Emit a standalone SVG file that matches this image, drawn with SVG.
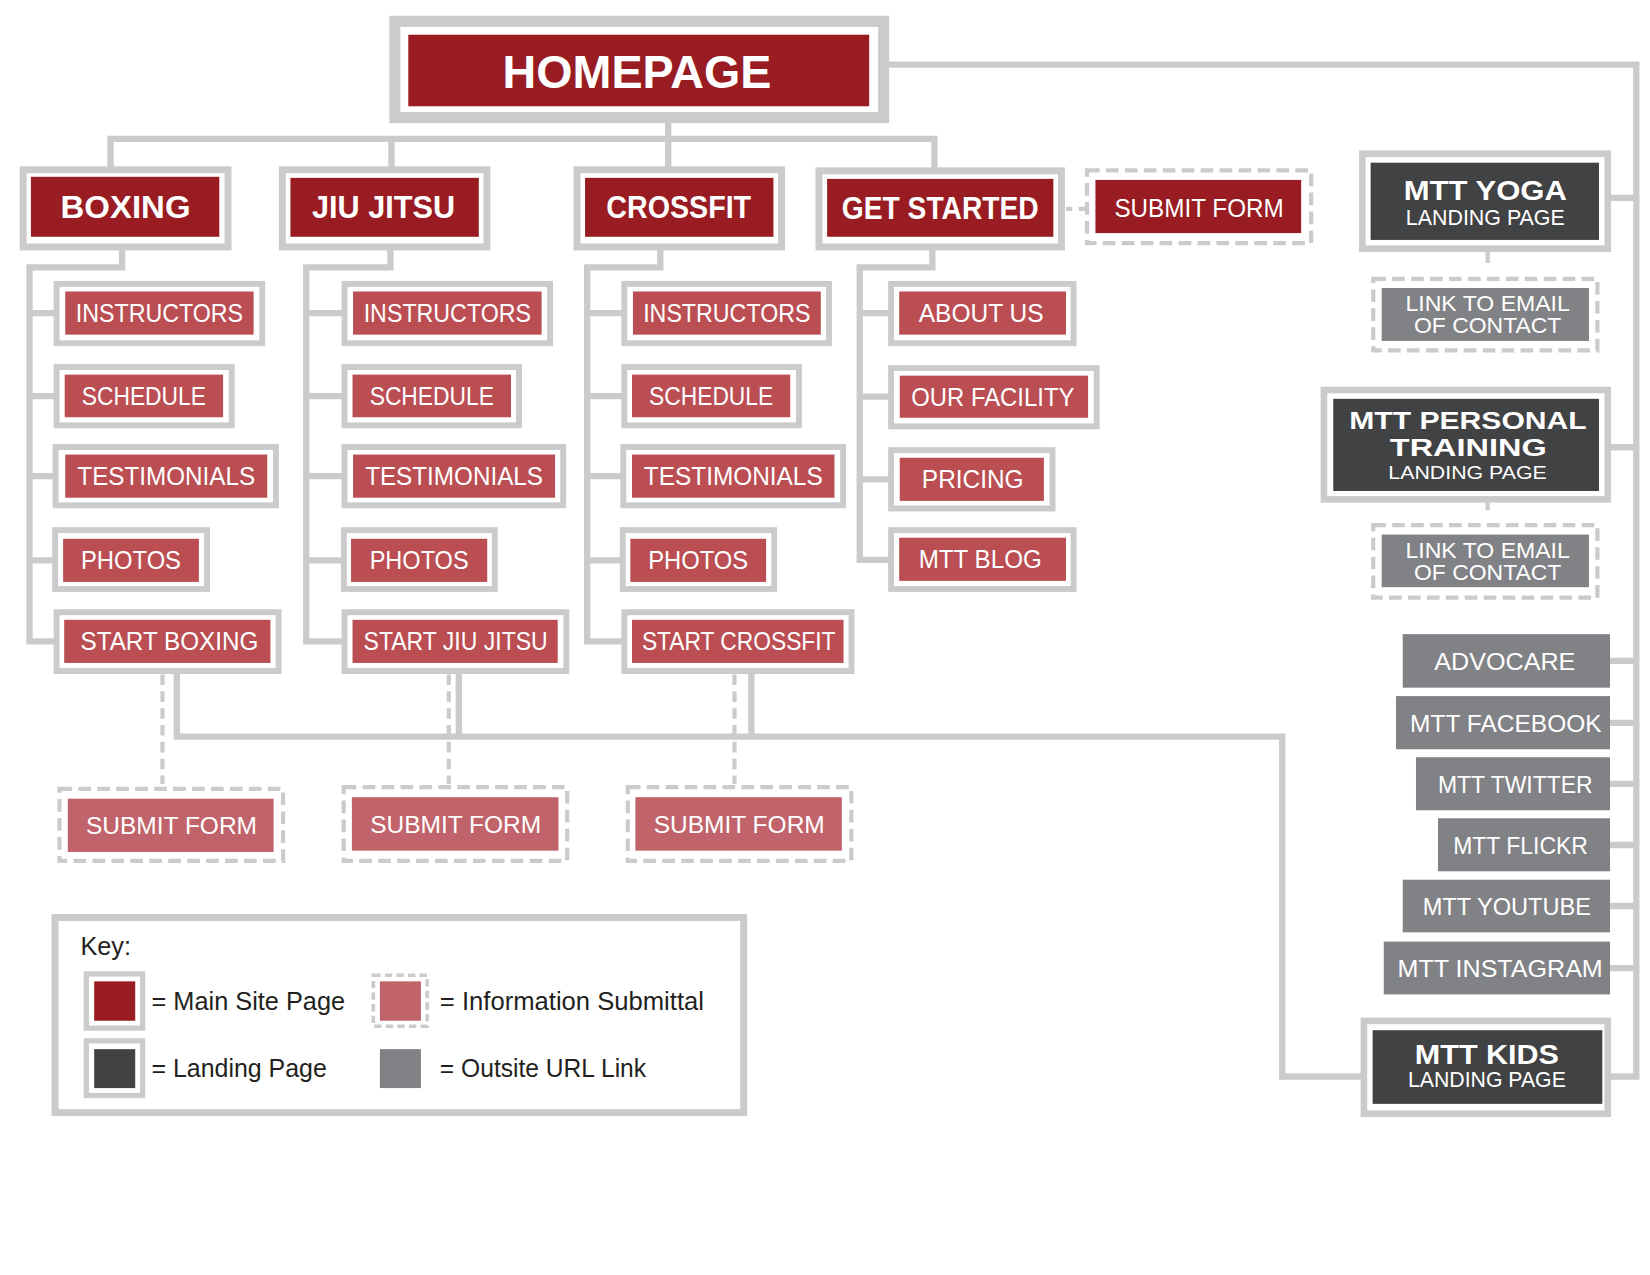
<svg xmlns="http://www.w3.org/2000/svg" width="1650" height="1275" viewBox="0 0 1650 1275">
<style>
.fr{fill:#fff;stroke:#cbcbcc}
.ln{fill:none;stroke:#cbcbcc;stroke-width:6}
.dl{fill:none;stroke:#cbcbcc;stroke-width:4;stroke-dasharray:10 6}
.ds{fill:#fff;stroke:#cbcbcc;stroke-width:4;stroke-dasharray:12 6}
.main{fill:#981c21}
.sub{fill:#bb4e53}
.info{fill:#c1636a}
.land{fill:#414244}
.out{fill:#808285}
.t{font-family:"Liberation Sans",Arial,sans-serif;fill:#fff;text-anchor:middle}
.b{font-weight:700}
.s24{font-size:24px}
.k{font-family:"Liberation Sans",Arial,sans-serif;fill:#231f20;font-size:24px}
</style>
<rect width="1650" height="1275" fill="#fff"/>
<g transform="scale(1.0523)">
<g id="connectors">
<path class="ln" d="M105,160 V132 H888 V162 M372,132 V160 M635,112 V160"/>
<path class="ln" d="M840,61.5 H1555 V1023 H1525 M1525,188 H1555 M1525,425 H1555 M1525,628 H1555 M1525,687 H1555 M1525,745 H1555 M1525,803 H1555 M1525,861 H1555 M1525,920 H1555"/>
<path class="ln" d="M116,235 V254 H28 V609.5 H55 M28,297.5 H55 M28,376.5 H55 M28,452.5 H55 M28,532.5 H55"/>
<path class="ln" d="M371,235 V254 H291 V609.5 H330 M291,297.5 H330 M291,376.5 H330 M291,452.5 H330 M291,532.5 H330"/>
<path class="ln" d="M627.5,235 V254 H558 V609.5 H595 M558,297.5 H595 M558,376.5 H595 M558,452.5 H595 M558,532.5 H595"/>
<path class="ln" d="M886,235 V254 H817 V532 H850 M817,297.5 H850 M817,377 H850 M817,455.5 H850"/>
<path class="ln" d="M168,637 V700 H1218.5 V1023 H1298 M436,637 V700 M714,637 V700"/>
<path class="dl" d="M154.4,641 V745 M426.5,641 V745 M698,641 V745"/>
<path class="dl" style="stroke-dasharray:6 6" d="M1013,198.5 H1031"/>
<path class="ln" style="stroke-width:4" d="M1413.7,238 V250 M1413.7,476 V485"/>
</g>

<g id="n-homepage">
<rect class="fr" x="375.25" y="20.25" width="464.5" height="91.5" stroke-width="10.5"/>
<rect class="main" x="388" y="33" width="438" height="68"/>
<text class="t b" x="605.3" y="84" font-size="44" textLength="255.5" lengthAdjust="spacingAndGlyphs">HOMEPAGE</text>
</g>

<g id="n-boxing">
<rect class="fr" x="22" y="161.3" width="194.7" height="73.4" stroke-width="6.6"/>
<rect class="main" x="29.4" y="168" width="179" height="57"/>
<text class="t b" x="119.3" y="207" font-size="30" textLength="123.5" lengthAdjust="spacingAndGlyphs">BOXING</text>
</g>
<g id="n-jiujitsu">
<rect class="fr" x="268.3" y="161.3" width="194.4" height="73.4" stroke-width="6.6"/>
<rect class="main" x="276" y="169" width="179" height="56"/>
<text class="t b" x="364.5" y="207" font-size="30" textLength="136" lengthAdjust="spacingAndGlyphs">JIU JITSU</text>
</g>
<g id="n-crossfit">
<rect class="fr" x="548.3" y="161.3" width="194.4" height="73.4" stroke-width="6.6"/>
<rect class="main" x="556" y="169" width="179" height="56"/>
<text class="t b" x="645" y="207" font-size="30" textLength="137.6" lengthAdjust="spacingAndGlyphs">CROSSFIT</text>
</g>
<g id="n-getstarted">
<rect class="fr" x="778.3" y="162.3" width="230.4" height="72.4" stroke-width="6.6"/>
<rect class="main" x="786" y="170" width="215" height="55"/>
<text class="t b" x="893.5" y="208" font-size="30" textLength="187" lengthAdjust="spacingAndGlyphs">GET STARTED</text>
</g>
<g id="n-gs-submit">
<rect class="ds" x="1033" y="162" width="213" height="69"/>
<rect class="main" x="1041" y="171" width="195.5" height="50.5"/>
<text class="t s24" x="1139.5" y="206" textLength="161" lengthAdjust="spacingAndGlyphs">SUBMIT FORM</text>
</g>

<!-- Boxing children -->
<g id="n-box-instructors">
<rect class="fr" x="53.8" y="269.8" width="195.4" height="56.4" stroke-width="5.6"/>
<rect class="sub" x="62" y="277" width="179" height="41"/>
<text class="t s24" x="151.5" y="306" textLength="159" lengthAdjust="spacingAndGlyphs">INSTRUCTORS</text>
</g>
<g id="n-box-schedule">
<rect class="fr" x="53.8" y="348.8" width="166.4" height="55.4" stroke-width="5.6"/>
<rect class="sub" x="61.5" y="356" width="150.5" height="40.5"/>
<text class="t s24" x="136.7" y="385" textLength="118" lengthAdjust="spacingAndGlyphs">SCHEDULE</text>
</g>
<g id="n-box-testimonials">
<rect class="fr" x="52.8" y="424.8" width="209.4" height="55.4" stroke-width="5.6"/>
<rect class="sub" x="62" y="432" width="192" height="41"/>
<text class="t s24" x="158" y="461" textLength="169" lengthAdjust="spacingAndGlyphs">TESTIMONIALS</text>
</g>
<g id="n-box-photos">
<rect class="fr" x="52.4" y="503.8" width="144.3" height="55.9" stroke-width="5.6"/>
<rect class="sub" x="60" y="512" width="129" height="41"/>
<text class="t s24" x="124.5" y="541" textLength="95" lengthAdjust="spacingAndGlyphs">PHOTOS</text>
</g>
<g id="n-box-start">
<rect class="fr" x="53.8" y="581.8" width="210.9" height="55.9" stroke-width="5.6"/>
<rect class="sub" x="61" y="589" width="196" height="41"/>
<text class="t s24" x="161" y="618" textLength="169" lengthAdjust="spacingAndGlyphs">START BOXING</text>
</g>

<!-- Jiu Jitsu children -->
<g id="n-jj-instructors">
<rect class="fr" x="327.4" y="269.8" width="195.3" height="56.4" stroke-width="5.6"/>
<rect class="sub" x="335.5" y="277" width="179.2" height="41"/>
<text class="t s24" x="425.1" y="306" textLength="159" lengthAdjust="spacingAndGlyphs">INSTRUCTORS</text>
</g>
<g id="n-jj-schedule">
<rect class="fr" x="327.4" y="348.8" width="165.8" height="55.4" stroke-width="5.6"/>
<rect class="sub" x="335" y="356" width="150.6" height="40.5"/>
<text class="t s24" x="410.3" y="385" textLength="118" lengthAdjust="spacingAndGlyphs">SCHEDULE</text>
</g>
<g id="n-jj-testimonials">
<rect class="fr" x="327.4" y="424.8" width="207.8" height="55.4" stroke-width="5.6"/>
<rect class="sub" x="335.5" y="432" width="192" height="41"/>
<text class="t s24" x="431.5" y="461" textLength="169" lengthAdjust="spacingAndGlyphs">TESTIMONIALS</text>
</g>
<g id="n-jj-photos">
<rect class="fr" x="326.8" y="503.8" width="143.4" height="55.9" stroke-width="5.6"/>
<rect class="sub" x="333.6" y="512" width="129.4" height="41"/>
<text class="t s24" x="398.3" y="541" textLength="94" lengthAdjust="spacingAndGlyphs">PHOTOS</text>
</g>
<g id="n-jj-start">
<rect class="fr" x="327.4" y="581.8" width="210.8" height="55.9" stroke-width="5.6"/>
<rect class="sub" x="335" y="589" width="195" height="41"/>
<text class="t s24" x="433" y="618" textLength="175" lengthAdjust="spacingAndGlyphs">START JIU JITSU</text>
</g>

<!-- CrossFit children -->
<g id="n-cf-instructors">
<rect class="fr" x="593.3" y="269.8" width="194.5" height="56.4" stroke-width="5.6"/>
<rect class="sub" x="601.5" y="277" width="178.5" height="41"/>
<text class="t s24" x="690.7" y="306" textLength="159" lengthAdjust="spacingAndGlyphs">INSTRUCTORS</text>
</g>
<g id="n-cf-schedule">
<rect class="fr" x="593.3" y="348.8" width="165.9" height="55.4" stroke-width="5.6"/>
<rect class="sub" x="600.6" y="356" width="150.4" height="40.5"/>
<text class="t s24" x="675.8" y="385" textLength="118" lengthAdjust="spacingAndGlyphs">SCHEDULE</text>
</g>
<g id="n-cf-testimonials">
<rect class="fr" x="592.3" y="424.8" width="208.9" height="55.4" stroke-width="5.6"/>
<rect class="sub" x="600.6" y="432" width="192.4" height="41"/>
<text class="t s24" x="696.8" y="461" textLength="170" lengthAdjust="spacingAndGlyphs">TESTIMONIALS</text>
</g>
<g id="n-cf-photos">
<rect class="fr" x="591.8" y="503.8" width="143.9" height="55.9" stroke-width="5.6"/>
<rect class="sub" x="599" y="512" width="129" height="41"/>
<text class="t s24" x="663.5" y="541" textLength="95" lengthAdjust="spacingAndGlyphs">PHOTOS</text>
</g>
<g id="n-cf-start">
<rect class="fr" x="593.3" y="581.8" width="215.9" height="55.9" stroke-width="5.6"/>
<rect class="sub" x="600.6" y="589" width="201" height="41"/>
<text class="t s24" x="702" y="618" textLength="184" lengthAdjust="spacingAndGlyphs">START CROSSFIT</text>
</g>

<!-- Get Started children -->
<g id="n-gs-about">
<rect class="fr" x="846.8" y="269.8" width="173.4" height="56.4" stroke-width="5.6"/>
<rect class="sub" x="854.5" y="277" width="158.5" height="41"/>
<text class="t s24" x="932.4" y="306" textLength="118.7" lengthAdjust="spacingAndGlyphs">ABOUT US</text>
</g>
<g id="n-gs-facility">
<rect class="fr" x="846.8" y="349.8" width="195.4" height="55.4" stroke-width="5.6"/>
<rect class="sub" x="855" y="357" width="179" height="40"/>
<text class="t s24" x="943.5" y="385.5" textLength="155" lengthAdjust="spacingAndGlyphs">OUR FACILITY</text>
</g>
<g id="n-gs-pricing">
<rect class="fr" x="846.8" y="427.8" width="153.4" height="55.4" stroke-width="5.6"/>
<rect class="sub" x="855" y="435" width="137" height="41"/>
<text class="t s24" x="924.4" y="464" textLength="96.7" lengthAdjust="spacingAndGlyphs">PRICING</text>
</g>
<g id="n-gs-blog">
<rect class="fr" x="846.8" y="503.8" width="173.4" height="55.9" stroke-width="5.6"/>
<rect class="sub" x="854.5" y="511" width="158.5" height="41"/>
<text class="t s24" x="931.5" y="540" textLength="117" lengthAdjust="spacingAndGlyphs">MTT BLOG</text>
</g>

<!-- Bottom submit forms -->
<g id="n-box-submit">
<rect class="ds" x="56.5" y="749.6" width="212.5" height="68.4"/>
<rect class="info" x="64.4" y="759" width="195.6" height="50.6"/>
<text class="t" font-size="23" x="163" y="793" textLength="162.5" lengthAdjust="spacingAndGlyphs">SUBMIT FORM</text>
</g>
<g id="n-jj-submit">
<rect class="ds" x="326.6" y="748" width="212.4" height="70"/>
<rect class="info" x="334.4" y="757.6" width="196.3" height="50.8"/>
<text class="t" font-size="23" x="433" y="792" textLength="162.5" lengthAdjust="spacingAndGlyphs">SUBMIT FORM</text>
</g>
<g id="n-cf-submit">
<rect class="ds" x="596.6" y="748" width="212.4" height="70"/>
<rect class="info" x="603.8" y="757.6" width="196.2" height="50.8"/>
<text class="t" font-size="23" x="702.5" y="792" textLength="162.5" lengthAdjust="spacingAndGlyphs">SUBMIT FORM</text>
</g>

<!-- Landing pages -->
<g id="n-yoga">
<rect class="fr" x="1294.65" y="146.15" width="233.2" height="90.2" stroke-width="6.3"/>
<rect class="land" x="1302.5" y="154.6" width="217" height="73.4"/>
<text class="t b" x="1411.5" y="190" font-size="27" textLength="155" lengthAdjust="spacingAndGlyphs">MTT YOGA</text>
<text class="t" x="1411.5" y="213.8" font-size="21" textLength="151" lengthAdjust="spacingAndGlyphs">LANDING PAGE</text>
</g>
<g id="n-yoga-link">
<rect class="ds" x="1305" y="265" width="213" height="68"/>
<rect class="out" x="1313" y="273.7" width="197" height="50.3"/>
<text class="t" x="1413.7" y="295.6" font-size="21" textLength="156" lengthAdjust="spacingAndGlyphs">LINK TO EMAIL</text>
<text class="t" x="1413.7" y="316.6" font-size="21" textLength="140" lengthAdjust="spacingAndGlyphs">OF CONTACT</text>
</g>
<g id="n-pt">
<rect class="fr" x="1258.15" y="370.65" width="269.7" height="103.9" stroke-width="6.3"/>
<rect class="land" x="1267" y="379" width="252.5" height="87.6"/>
<text class="t b" x="1395" y="407.5" font-size="23" textLength="225.6" lengthAdjust="spacingAndGlyphs">MTT PERSONAL</text>
<text class="t b" x="1395.3" y="433" font-size="23" textLength="149" lengthAdjust="spacingAndGlyphs">TRAINING</text>
<text class="t" x="1394.6" y="455" font-size="18" textLength="150.5" lengthAdjust="spacingAndGlyphs">LANDING PAGE</text>
</g>
<g id="n-pt-link">
<rect class="ds" x="1305" y="499" width="213" height="69"/>
<rect class="out" x="1313" y="508" width="197" height="50"/>
<text class="t" x="1413.7" y="530" font-size="21" textLength="156" lengthAdjust="spacingAndGlyphs">LINK TO EMAIL</text>
<text class="t" x="1413.7" y="551" font-size="21" textLength="140" lengthAdjust="spacingAndGlyphs">OF CONTACT</text>
</g>

<!-- Outside links -->
<g id="n-advocare">
<rect class="out" x="1333" y="602.6" width="197" height="50.9"/>
<text class="t" font-size="23" x="1430" y="637" textLength="134" lengthAdjust="spacingAndGlyphs">ADVOCARE</text>
</g>
<g id="n-facebook">
<rect class="out" x="1326.6" y="661.5" width="203.4" height="50.5"/>
<text class="t" font-size="23" x="1431" y="695.5" textLength="182" lengthAdjust="spacingAndGlyphs">MTT FACEBOOK</text>
</g>
<g id="n-twitter">
<rect class="out" x="1345.6" y="719.6" width="184.4" height="50.4"/>
<text class="t" font-size="23" x="1440" y="753.5" textLength="147" lengthAdjust="spacingAndGlyphs">MTT TWITTER</text>
</g>
<g id="n-flickr">
<rect class="out" x="1366.5" y="777.6" width="163.5" height="50.4"/>
<text class="t" font-size="23" x="1445" y="811.5" textLength="128" lengthAdjust="spacingAndGlyphs">MTT FLICKR</text>
</g>
<g id="n-youtube">
<rect class="out" x="1333" y="836" width="197" height="50"/>
<text class="t" font-size="23" x="1432" y="869.5" textLength="160" lengthAdjust="spacingAndGlyphs">MTT YOUTUBE</text>
</g>
<g id="n-instagram">
<rect class="out" x="1315" y="894.8" width="215" height="50.2"/>
<text class="t" font-size="23" x="1425.6" y="928.5" textLength="195" lengthAdjust="spacingAndGlyphs">MTT INSTAGRAM</text>
</g>

<g id="n-kids">
<rect class="fr" x="1296.15" y="970.15" width="231.7" height="88.2" stroke-width="6.3"/>
<rect class="land" x="1304.4" y="979" width="218.3" height="70"/>
<text class="t b" x="1413" y="1011" font-size="27" textLength="137" lengthAdjust="spacingAndGlyphs">MTT KIDS</text>
<text class="t" x="1413" y="1033" font-size="21" textLength="150" lengthAdjust="spacingAndGlyphs">LANDING PAGE</text>
</g>

<!-- Key -->
<g id="key">
<rect class="fr" x="52.3" y="871.9" width="654.4" height="185.4" stroke-width="6.6"/>
<text class="k" x="76.4" y="907.6" textLength="48" lengthAdjust="spacingAndGlyphs">Key:</text>
<rect class="fr" x="82" y="925.5" width="53.5" height="51.5" stroke-width="5"/>
<rect class="main" x="89.5" y="932.6" width="39" height="37.4"/>
<text class="k" x="144" y="960" textLength="184" lengthAdjust="spacingAndGlyphs">= Main Site Page</text>
<rect class="fr" x="354.75" y="926.75" width="51.2" height="48.5" stroke-width="3.5" stroke-dasharray="7 4"/>
<rect class="info" x="361" y="932.6" width="39" height="37.4"/>
<text class="k" x="418" y="960" textLength="251" lengthAdjust="spacingAndGlyphs">= Information Submittal</text>
<rect class="fr" x="82" y="989.1" width="53.5" height="52" stroke-width="5"/>
<rect class="land" x="89.5" y="997" width="39" height="37"/>
<text class="k" x="144" y="1023" textLength="166.6" lengthAdjust="spacingAndGlyphs">= Landing Page</text>
<rect class="out" x="361" y="997" width="39" height="37"/>
<text class="k" x="418" y="1023" textLength="196" lengthAdjust="spacingAndGlyphs">= Outsite URL Link</text>
</g>
</g>
</svg>
